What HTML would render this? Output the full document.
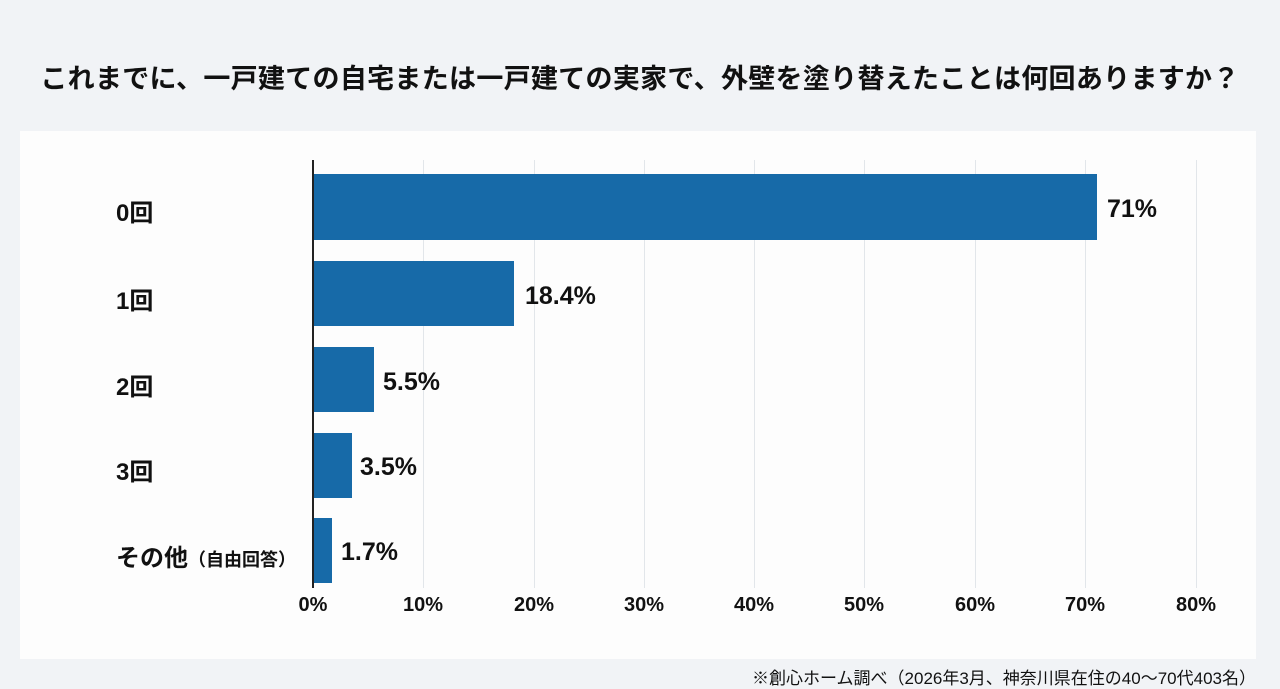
<!DOCTYPE html>
<html><head><meta charset="utf-8"><style>
body{margin:0;width:1280px;height:685px;overflow:hidden;background:#f1f3f6;font-family:"Liberation Sans","Noto Sans CJK JP",sans-serif;position:relative}
.t{position:absolute;left:0;width:1280px;top:57px;text-align:center;font-size:27px;font-weight:bold;color:#111;letter-spacing:0.3px}
.p{position:absolute;left:20px;top:131px;width:1236px;height:528px;background:#fdfdfd}
.g{position:absolute;top:160px;height:428px;width:1px;background:#e2e6ea}
.ax{position:absolute;left:312px;top:160px;width:2px;height:428px;background:#222}
.b{position:absolute;left:313px;background:#176aa8}
.v{position:absolute;font-size:25px;font-weight:bold;color:#111}
.c{position:absolute;font-size:24px;font-weight:bold;color:#111;left:116px}
.x{position:absolute;top:594px;font-size:20px;font-weight:bold;color:#111;width:80px;margin-left:-40px;text-align:center}
.f{position:absolute;right:24px;top:664px;font-size:17px;color:#111}
</style></head><body>
<div class="t">これまでに、一戸建ての自宅または一戸建ての実家で、外壁を塗り替えたことは何回ありますか？</div>
<div class="p"></div>
<div class="g" style="left:423px"></div><div class="g" style="left:534px"></div><div class="g" style="left:644px"></div><div class="g" style="left:754px"></div><div class="g" style="left:864px"></div><div class="g" style="left:975px"></div><div class="g" style="left:1085px"></div><div class="g" style="left:1196px"></div>
<div class="b" style="top:174px;height:66px;width:784px"></div>
<div class="b" style="top:261px;height:65px;width:201px"></div>
<div class="b" style="top:347px;height:65px;width:61px"></div>
<div class="b" style="top:433px;height:65px;width:39px"></div>
<div class="b" style="top:518px;height:65px;width:19px"></div>
<div class="ax"></div>
<div class="v" style="left:1107px;top:195px">71%</div>
<div class="v" style="left:525px;top:282px">18.4%</div>
<div class="v" style="left:383px;top:368px">5.5%</div>
<div class="v" style="left:360px;top:453px">3.5%</div>
<div class="v" style="left:341px;top:538px">1.7%</div>
<div class="c" style="top:193px">0回</div>
<div class="c" style="top:281px">1回</div>
<div class="c" style="top:367px">2回</div>
<div class="c" style="top:452px">3回</div>
<div class="c" style="top:538px">その他<span style="font-size:18px">（自由回答）</span></div>
<div class="x" style="left:313px">0%</div><div class="x" style="left:423px">10%</div><div class="x" style="left:534px">20%</div><div class="x" style="left:644px">30%</div><div class="x" style="left:754px">40%</div><div class="x" style="left:864px">50%</div><div class="x" style="left:975px">60%</div><div class="x" style="left:1085px">70%</div><div class="x" style="left:1196px">80%</div>
<div class="f">※創心ホーム調べ（2026年3月、神奈川県在住の40〜70代403名）</div>
</body></html>
